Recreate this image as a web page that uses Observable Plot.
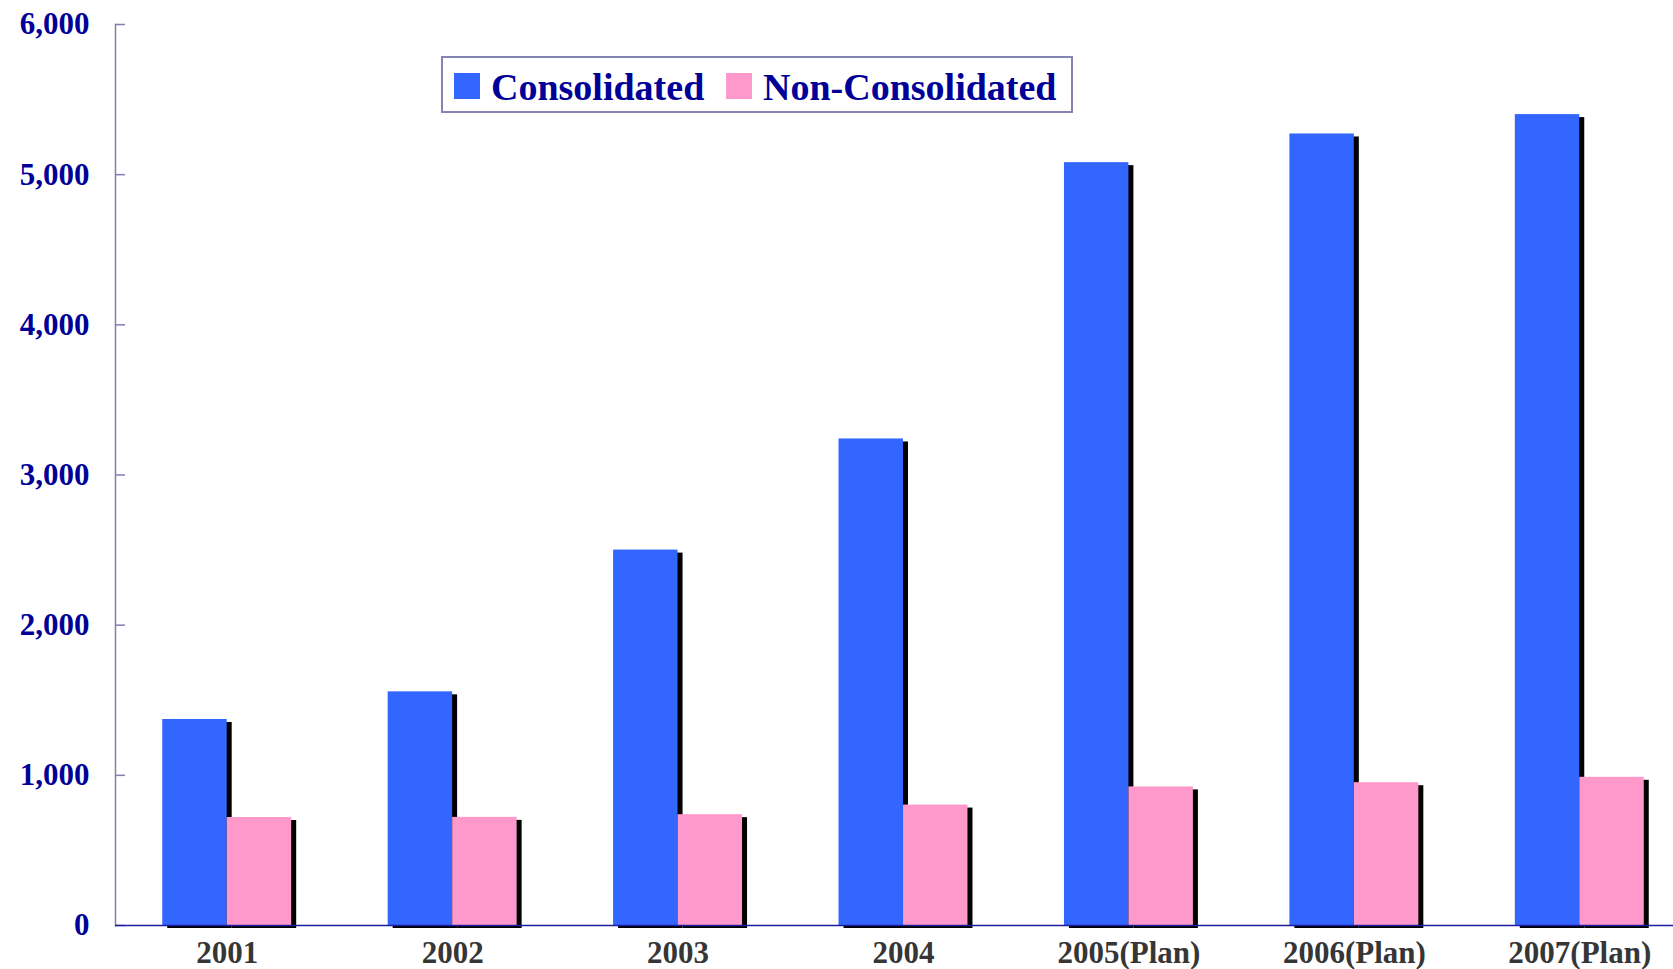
<!DOCTYPE html>
<html>
<head>
<meta charset="utf-8">
<script src="https://cdn.jsdelivr.net/npm/d3@7"></script>
<script src="https://cdn.jsdelivr.net/npm/@observablehq/plot@0.6"></script>
<style>
  body { margin: 0; background: #fff; }
  #chart { position: relative; width: 1673px; height: 969px; overflow: hidden; }
  #chart svg { display: block; }
  .legend {
    position: absolute; left: 441px; top: 56px; width: 628px; height: 53px;
    border: 2px solid #8484b4; background: #fff;
    font-family: "Liberation Serif", "Times New Roman", serif; font-weight: bold;
    font-size: 38px; color: #000099;
  }
  .legend .sw { position: absolute; top: 15px; width: 26px; height: 26px; }
  .legend .lab { position: absolute; top: 10px; line-height: 38px; white-space: nowrap; }
</style>
</head>
<body>
<div id="chart"></div>
<script>
// Fiscal years on the category axis
const years = ["2001", "2002", "2003", "2004", "2005(Plan)", "2006(Plan)", "2007(Plan)"];
// Series values
const consolidated = [1372, 1556, 2500, 3240, 5080, 5271, 5400];
const nonConsolidated = [719, 720, 738, 802, 923, 951, 987];
const seriesNames = ["Consolidated", "Non-Consolidated"];
const seriesColors = ["#3366ff", "#ff99cc"];
const yTicks = [0, 1000, 2000, 3000, 4000, 5000, 6000];

const consRows = years.map((year, i) => ({year, value: consolidated[i]}));
const nonRows = years.map((year, i) => ({year, value: nonConsolidated[i]}));

const half = 64.5; // each series takes one half of the year's band
const serif = "Liberation Serif, Times New Roman, serif";

const chart = Plot.plot({
  width: 1673,
  height: 969,
  marginTop: 24,
  marginBottom: 44,
  marginLeft: 115,
  marginRight: 0,
  style: {fontFamily: serif, fontWeight: "bold", background: "#fff"},
  x: {domain: years, range: [114, 1692], paddingInner: 0.428, paddingOuter: 0.214, round: false, label: null},
  y: {domain: [0, 6000], label: null},
  marks: [
    Plot.frame({anchor: "left", stroke: "#7f7fb0", strokeWidth: 1.5}),
    Plot.axisY({ticks: yTicks, tickSize: 10, dx: 10, tickFormat: () => "", stroke: "#7f7fb0", strokeWidth: 1.5, label: null}),
    Plot.axisY({ticks: yTicks, tickSize: 0, tickPadding: 26, tickFormat: d3.format(","),
      fill: "#000099", fontSize: 31, fontWeight: "bold", fontFamily: serif, label: null}),
    Plot.axisX({tickSize: 0, tickPadding: 15, fill: "#363636", fontSize: 31, fontWeight: "bold", fontFamily: serif, label: null}),
    // drop shadows
    Plot.barY(consRows, {x: "year", y: "value", insetRight: half, fill: "#000", dx: 5, dy: 3}),
    Plot.barY(nonRows, {x: "year", y: "value", insetLeft: half, fill: "#000", dx: 5, dy: 3}),
    // bars
    Plot.barY(consRows, {x: "year", y: "value", insetRight: half, fill: seriesColors[0]}),
    Plot.barY(nonRows, {x: "year", y: "value", insetLeft: half, fill: seriesColors[1]}),
    Plot.ruleY([0], {stroke: "#1c1ca0", strokeWidth: 1.5})
  ]
});

const root = document.getElementById("chart");
root.appendChild(chart);

// Legend box
const legend = document.createElement("div");
legend.className = "legend";
const swatchX = [11, 283];
const labelX = [48, 320];
seriesNames.forEach((name, i) => {
  const sw = document.createElement("div");
  sw.className = "sw";
  sw.style.left = swatchX[i] + "px";
  sw.style.background = seriesColors[i];
  const lab = document.createElement("div");
  lab.className = "lab";
  lab.style.left = labelX[i] + "px";
  lab.textContent = name;
  legend.appendChild(sw);
  legend.appendChild(lab);
});
root.appendChild(legend);
</script>
</body>
</html>
